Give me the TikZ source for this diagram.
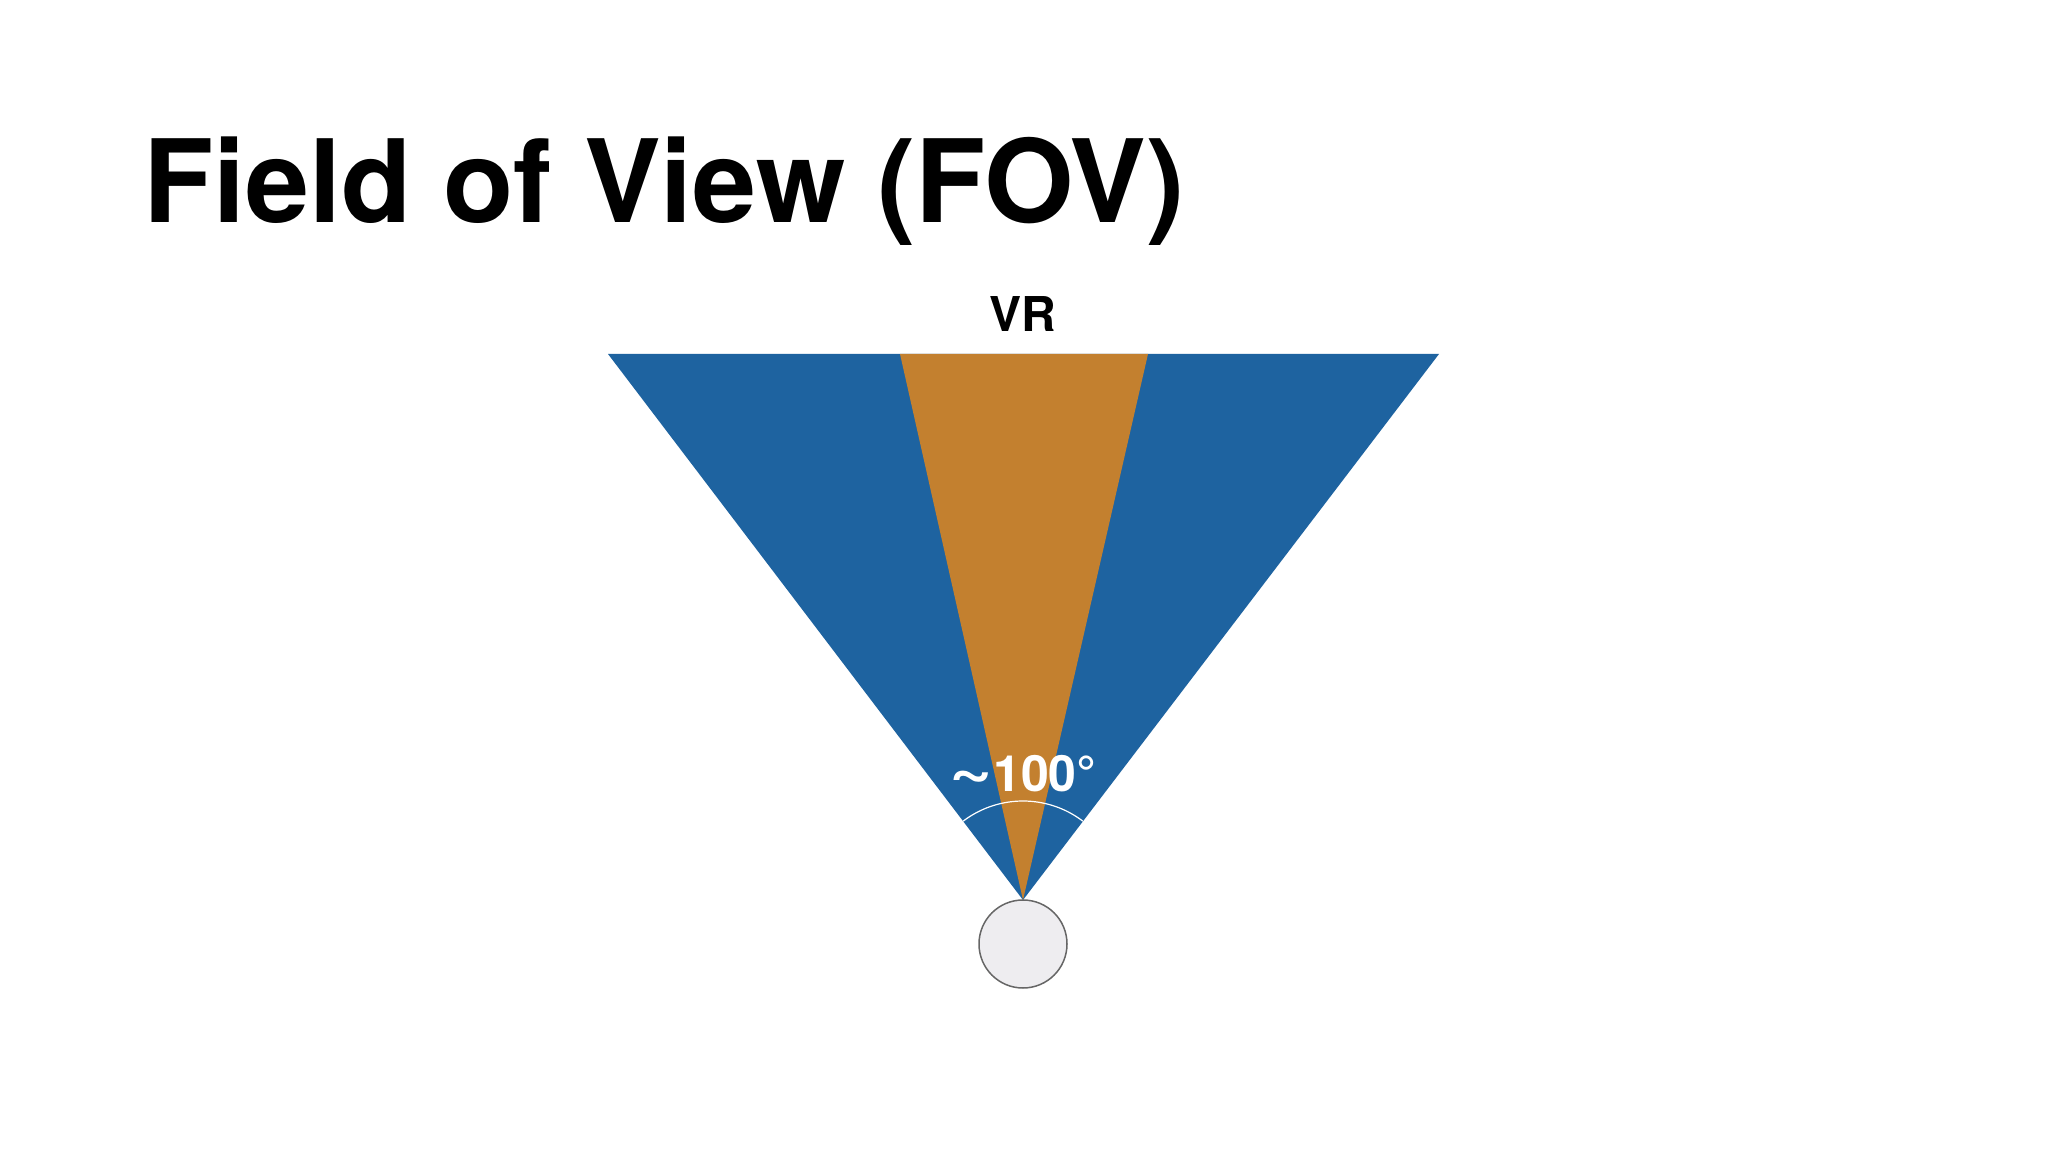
\documentclass[tikz,border=0pt]{standalone}
\usepackage{fontspec}
\setmainfont{TeX Gyre Heros}
\definecolor{fovblue}{RGB}{30,99,160}
\definecolor{fovorange}{RGB}{195,128,47}
\definecolor{eyegray}{RGB}{238,237,240}

\begin{document}
\begin{tikzpicture}[x=1pt,y=1pt,
		title_style/.style={font=\fontsize{115}{130}\selectfont\bfseries,anchor=base west,inner sep=0pt},
		label_style/.style={font=\fontsize{48}{52}\selectfont\bfseries,anchor=base,inner sep=0pt},
		angle_style/.style={font=\fontsize{50}{55}\selectfont\bfseries,text=white,anchor=base,inner sep=0pt},
		blue_style/.style={fill=fovblue},
		orange_style/.style={fill=fovorange},
		eye_style/.style={circle,draw=black!60,fill=eyegray,line width=1.5pt,minimum size=88pt,inner sep=0pt},
		arc_style/.style={draw=white,line width=1.2pt}]

		\useasboundingbox (0,0) rectangle (2048,1152);
		\fill[white] (0,0) rectangle (2048,1152);

		\coordinate (apex) at (1023,252);
		\coordinate (bl) at (608,798);
		\coordinate (br) at (1439,798);
		\coordinate (ol) at (900,798);
		\coordinate (or) at (1148,798);

		\fill[blue_style] (apex) -- (bl) -- (br) -- cycle;
		\fill[orange_style] (apex) -- (ol) -- (or) -- cycle;

		\node[title_style] (title) at (143,929) {Field of View (FOV)};
		\node[label_style] (vr) at (1023,820) {VR};
		\node[angle_style] (fov) at (1023,360) {\scalebox{1.5}[1.3]{\textasciitilde}100°};
		\node[eye_style] (eye) at (1023,208) {};

		\draw[arc_style] (apex) ++(52.8:99) arc[start angle=52.8, end angle=127.2, radius=99];
\end{tikzpicture}
\end{document}
